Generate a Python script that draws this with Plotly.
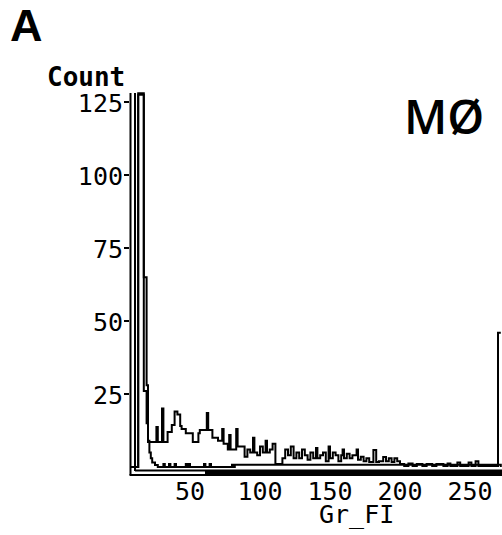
import plotly.graph_objects as go

# ---- data ----
# control histogram (step outline): left bin edge (channel) and count
ctrl_ch = [0, 13, 17, 19, 20, 21, 22, 23, 25, 27, 31, 32, 35, 36, 39, 40, 47, 48,
           49, 50, 60, 61, 64, 65, 80, 81, 82, 272]
ctrl_ct = [0, 128, 65, 28, 9, 5, 3, 1.5, 0.7, 0, 1, 0, 1, 0, 1, 0, 1, 0,
           1, 0, 1, 0, 1, 0, 0.8, 0, 0.8, 0]

# stained sample histogram (step outline)
samp_ch = [0, 13, 17, 19, 20, 26, 27, 30, 31, 34, 37, 39, 41, 43, 44, 47, 52, 56,
           57, 62, 63, 66, 70, 73, 74, 77, 78, 79, 83, 84, 89, 91, 93, 95, 96, 98,
           100, 102, 104, 105, 107, 109, 111, 116, 118, 120, 122, 124, 126, 128, 130, 132,
           134, 136, 138, 140, 141, 143, 145, 147, 149, 150, 152, 154, 156, 158, 159, 160,
           162, 164, 166, 169, 170, 172, 174, 176, 178, 181, 183, 185, 188, 190, 192, 194,
           196, 198, 200, 203, 206, 209, 212, 216, 219, 223, 226, 231, 234, 236, 241, 243,
           249, 251, 254, 256, 270, 272]
samp_ct = [0, 127.5, 26, 15, 8.6, 13.7, 8.6, 20, 8.6, 12, 14.4, 19, 18, 14, 13, 11.6, 8.6, 11.6,
           12.7, 18.5, 12.7, 10, 9, 13, 8, 6, 11, 6, 13, 7, 3.5, 6, 5, 10, 5, 4,
           7, 5, 9, 5, 6, 8, 1, 3, 6, 4, 7, 3, 5, 3, 6, 4,
           2.5, 5, 3, 6.5, 3, 4, 5, 2, 7, 3, 5, 4, 2, 4, 6, 3,
           4.5, 3, 4, 6, 2.5, 3.5, 2, 3, 1.7, 5.8, 1.7, 2, 3.4, 2, 3, 1.7,
           3, 2, 1, 0.3, 1.2, 0.3, 1, 0.3, 1, 0.3, 1, 0.3, 1.2, 0.3, 1.5, 0.3,
           1.5, 0.3, 2, 0.3, 46, 46]

y_ticks = [25, 50, 75, 100, 125]
x_ticks = [50, 100, 150, 200, 250]

# ---- figure ----
W, H = 502, 535
L, R, T = 130, 0, 80
B = H - 474
pw, ph = W - L - R, H - T - B


def xp(px):                   # pixel x -> paper
    return (px - L) / pw


def yp(py):                   # pixel y -> paper
    return (H - B - py) / ph


mono = "DejaVu Sans Mono"
fig = go.Figure()
fig.add_trace(go.Scatter(x=ctrl_ch, y=ctrl_ct, mode="lines", line_shape="hv",
                         line=dict(color="black", width=2), showlegend=False,
                         hoverinfo="skip"))
fig.add_trace(go.Scatter(x=samp_ch, y=samp_ct, mode="lines", line_shape="hv",
                         line=dict(color="black", width=2), showlegend=False,
                         hoverinfo="skip"))

shapes = [
    # double y axis line
    dict(type="line", xref="paper", yref="paper", x0=xp(130.5), x1=xp(130.5),
         y0=yp(93), y1=yp(475), line=dict(color="black", width=2)),
    dict(type="line", xref="paper", yref="paper", x0=xp(135), x1=xp(135),
         y0=yp(93), y1=yp(471), line=dict(color="black", width=2)),
    # double x axis line
    dict(type="line", xref="paper", yref="paper", x0=xp(135), x1=xp(502),
         y0=yp(470.5), y1=yp(470.5), line=dict(color="black", width=2)),
    dict(type="line", xref="paper", yref="paper", x0=xp(129.5), x1=xp(502),
         y0=yp(475), y1=yp(475), line=dict(color="black", width=2)),
    dict(type="rect", xref="paper", yref="paper", x0=xp(205), x1=xp(502),
         y0=yp(476), y1=yp(470), line=dict(width=0), fillcolor="black"),
]

annotations = [
    dict(text="A", xref="paper", yref="paper", x=xp(8), y=yp(26),
         xanchor="left", yanchor="middle", showarrow=False,
         font=dict(family="Liberation Sans", size=45, color="black", weight="bold")),
    dict(text="MØ", xref="paper", yref="paper", x=xp(444), y=yp(116),
         xanchor="center", yanchor="middle", showarrow=False,
         font=dict(family="Open Sans", size=47, color="black", weight=600)),
    dict(text="Count", xref="paper", yref="paper", x=xp(86), y=yp(77),
         xanchor="center", yanchor="middle", showarrow=False,
         font=dict(family=mono, size=26, color="black", weight="bold")),
    dict(text="Gr_FI", xref="paper", yref="paper", x=xp(356), y=yp(514),
         xanchor="center", yanchor="middle", showarrow=False,
         font=dict(family=mono, size=25, color="black")),
]

fig.update_layout(
    width=W, height=H, autosize=False,
    margin=dict(l=L, r=R, t=T, b=B, pad=0),
    paper_bgcolor="white", plot_bgcolor="white",
    shapes=shapes, annotations=annotations,
    modebar=dict(bgcolor="rgba(0,0,0,0)", color="rgba(0,0,0,0)",
                 activecolor="rgba(0,0,0,0)"),
    xaxis=dict(range=[(130 - 120) / 1.4, (502 - 120) / 1.4], tickvals=x_ticks,
               ticks="", showgrid=False, zeroline=False, showline=False,
               automargin=False, ticklabelstandoff=0,
               tickfont=dict(family=mono, size=25, color="black")),
    yaxis=dict(range=[(467 - 474) / 2.92, (467 - 80) / 2.92], tickvals=y_ticks,
               ticks="outside", ticklen=5, tickwidth=2, tickcolor="black",
               showgrid=False, zeroline=False, showline=False,
               automargin=False, ticklabelstandoff=-4, ticklabelshift=1,
               tickfont=dict(family=mono, size=25, color="black")),
)

fig.write_html("out.html",
               post_script="document.body.style.margin='0';"
                           "document.body.style.overflow='hidden';"
                           "document.querySelectorAll('.modebar-container')"
                           ".forEach(function(e){e.style.display='none';});")
